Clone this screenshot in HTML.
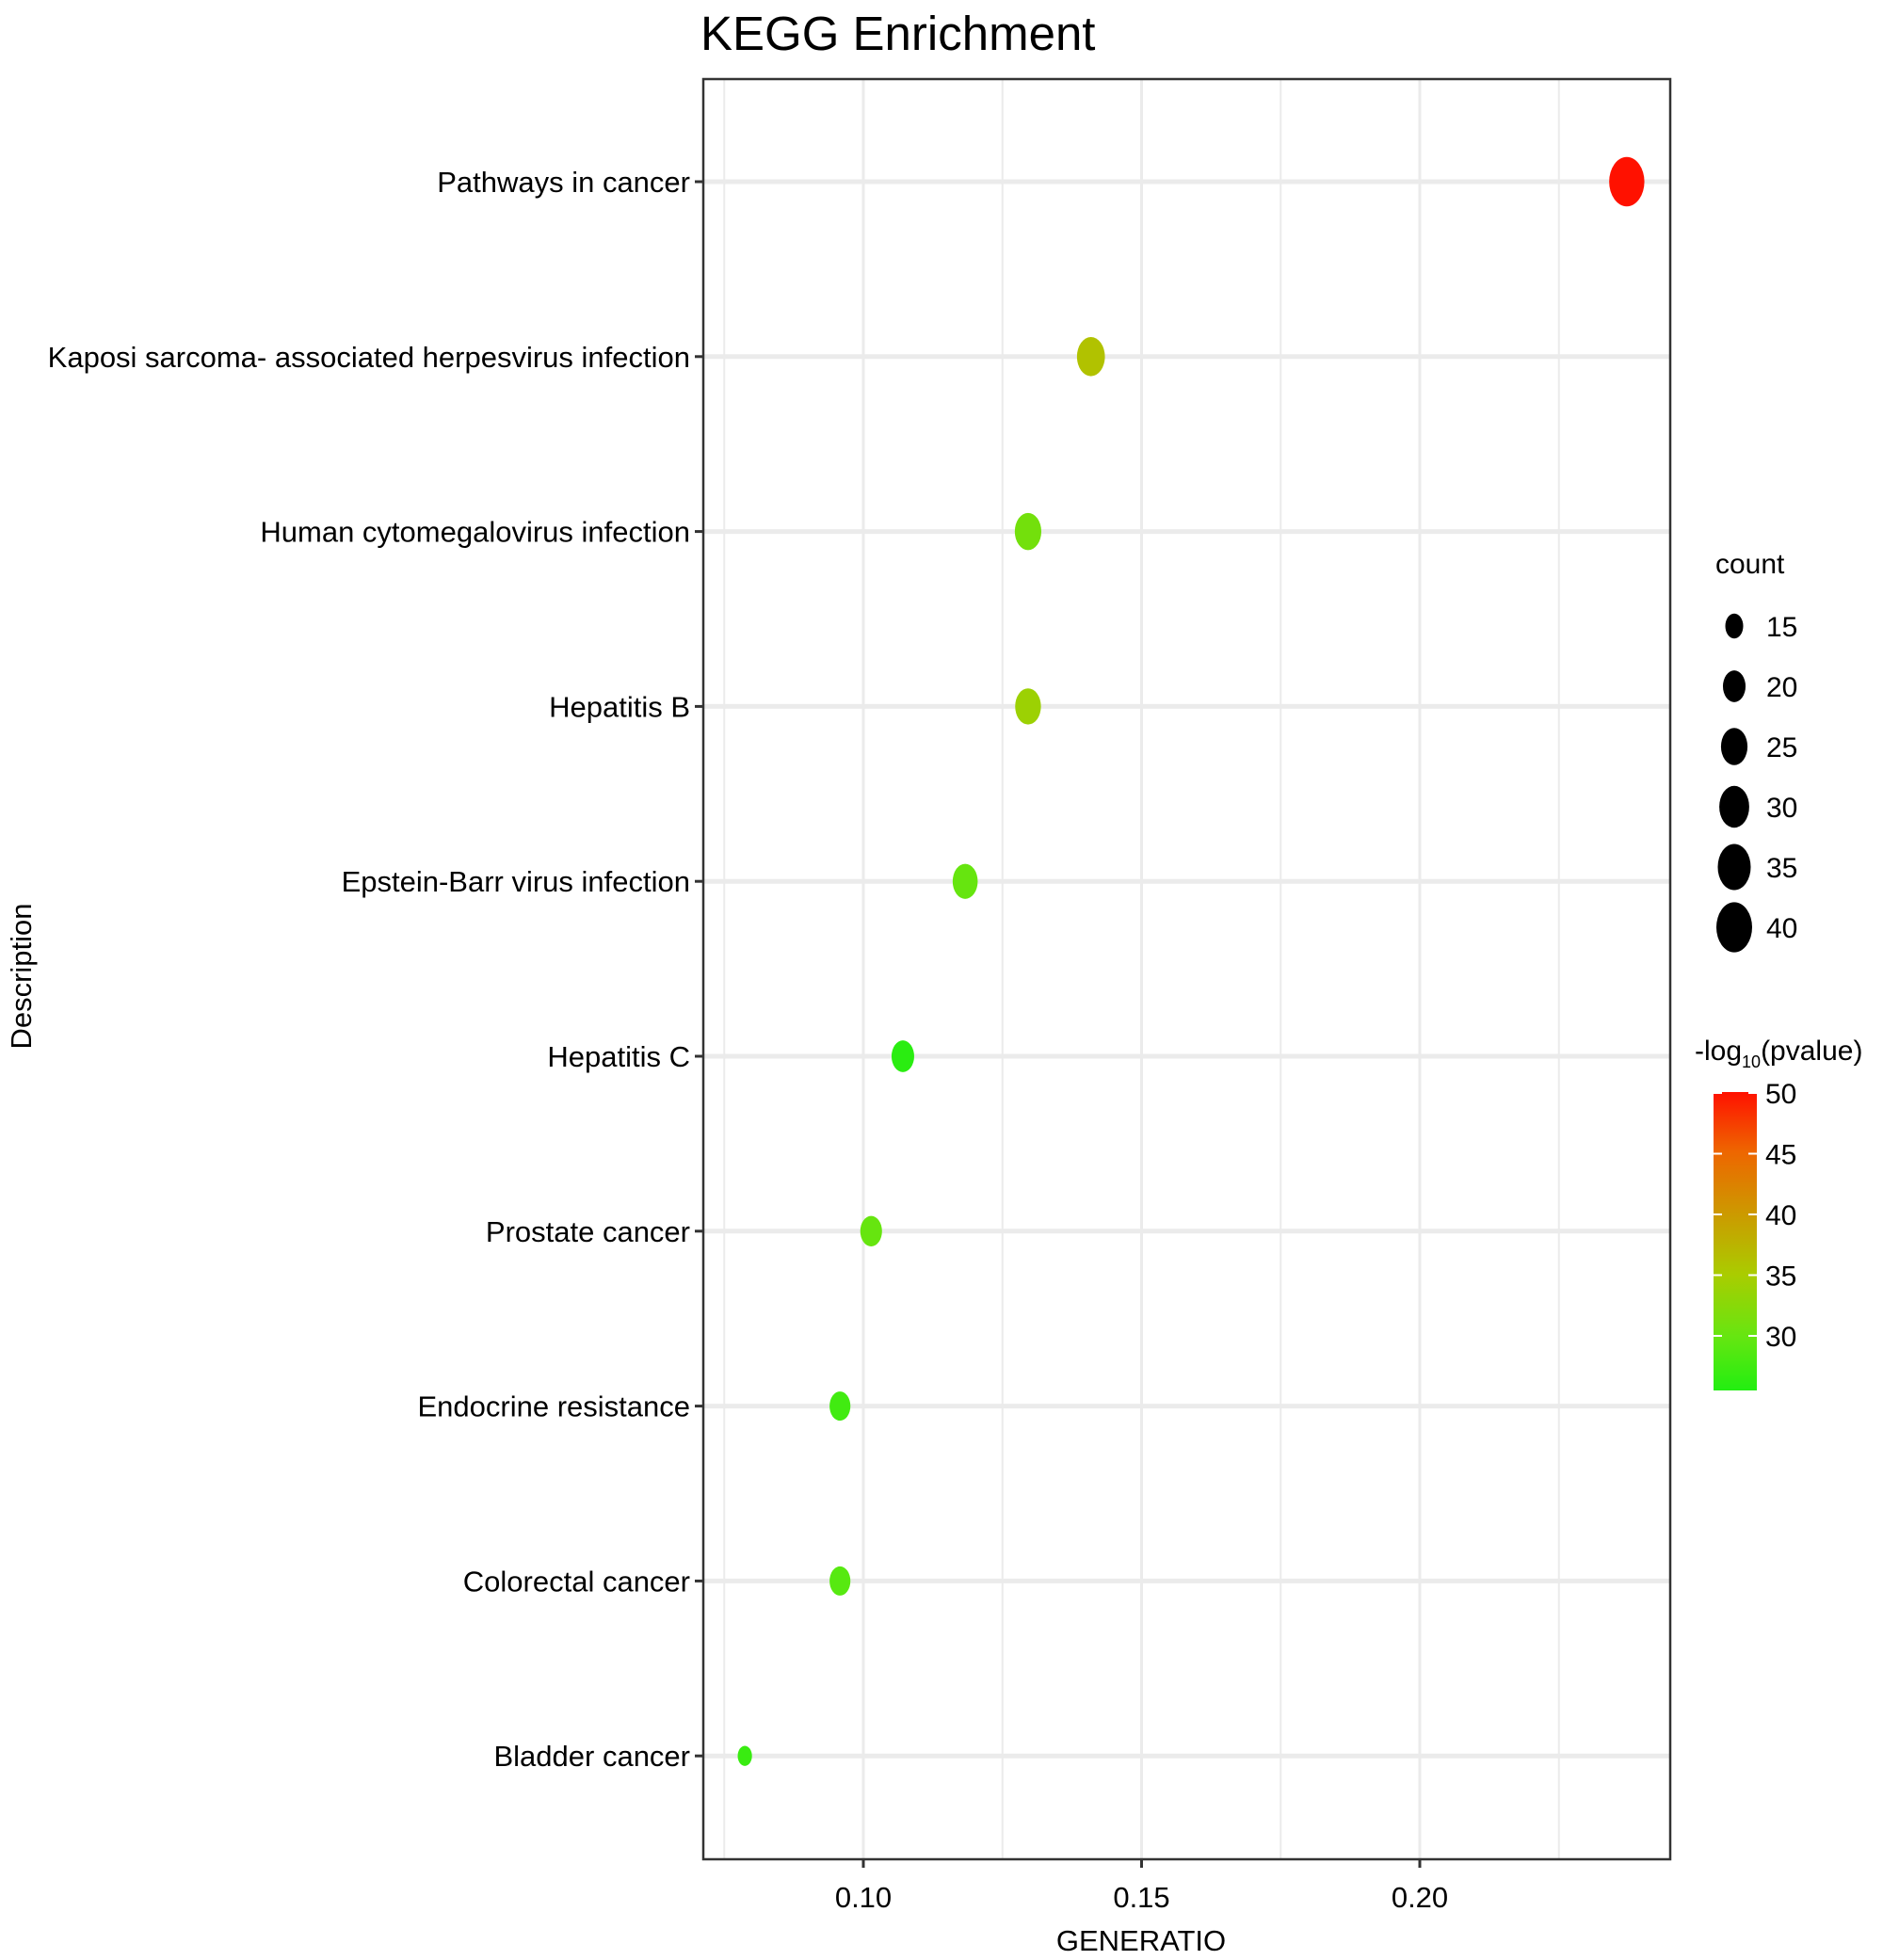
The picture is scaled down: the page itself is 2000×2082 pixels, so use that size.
<!DOCTYPE html>
<html><head><meta charset="utf-8"><style>
html,body{margin:0;padding:0;background:#fff}
svg{display:block;font-family:"Liberation Sans",Arial,sans-serif}
</style></head><body>
<svg id="chart" width="2000" height="2082" viewBox="0 0 2000 2082" xmlns="http://www.w3.org/2000/svg">
<defs>
<linearGradient id="cbar" x1="0" y1="1" x2="0" y2="0">
<stop offset="0" stop-color="#22ee11"/>
<stop offset="0.18" stop-color="#66e611"/>
<stop offset="0.39" stop-color="#aacc00"/>
<stop offset="0.59" stop-color="#cc9a00"/>
<stop offset="0.80" stop-color="#ee6600"/>
<stop offset="1" stop-color="#ff1100"/>
</linearGradient>
</defs>
<text x="744" y="53" font-size="51">KEGG Enrichment</text>
<g id="grid"></g>
<g id="points"></g>
<rect x="747" y="84" width="1027" height="1891" fill="none" stroke="#333" stroke-width="2.5"/>
<g id="yaxis"></g>
<g id="xaxis"></g>
<text x="1212" y="2072" font-size="31" text-anchor="middle">GENERATIO</text>
<text transform="translate(33,1037) rotate(-90)" font-size="31" text-anchor="middle">Description</text>
<g id="legend-size">
<text x="1822" y="609" font-size="30">count</text>
</g>
<g id="legend-color">
<text x="1800" y="1126" font-size="30">-log<tspan font-size="18" dy="8">10</tspan><tspan dy="-8">(pvalue)</tspan></text>
<rect x="1820" y="1160" width="46" height="317" fill="url(#cbar)"/>
</g>
</svg>
<script>
const categories = ["Pathways in cancer","Kaposi sarcoma- associated herpesvirus infection","Human cytomegalovirus infection","Hepatitis B","Epstein-Barr virus infection","Hepatitis C","Prostate cancer","Endocrine resistance","Colorectal cancer","Bladder cancer"];
const geneRatio = [0.2372,0.1409,0.1296,0.1296,0.1183,0.1071,0.1014,0.0958,0.0958,0.0787];
const counts = [39,27,25,24,23,20,19,18,18,12];
const pvals = [50,36,31,34,30,26,30,27.5,29,27];
const xTicks = [0.10,0.15,0.20];
const xTickLabels = ["0.10","0.15","0.20"];
const xMinor = [0.075,0.125,0.175,0.225];
const sizeLegend = [15,20,25,30,35,40];
const colorTicks = [30,35,40,45,50];

const NS="http://www.w3.org/2000/svg";
const X0=917, XPU=5910;
function xs(v){return X0+(v-0.10)*XPU;}
function ys(i){return 193+i*185.8;}
function wOf(c){return Math.sqrt(Math.max(60,361+(c-15)*43.3));}
const cStops=[[25.5,[34,238,17]],[29.5,[95,232,17]],[35,[170,204,0]],[40,[204,154,0]],[45,[238,102,0]],[50,[255,17,0]]];
function col(v){
  if(v<=cStops[0][0])return "rgb("+cStops[0][1]+")";
  for(let k=1;k<cStops.length;k++){
    if(v<=cStops[k][0]){const a=cStops[k-1],b=cStops[k];const t=(v-a[0])/(b[0]-a[0]);
      return "rgb("+a[1].map((c,j)=>Math.round(c+(b[1][j]-c)*t)).join(",")+")";}
  }
  return "rgb("+cStops[cStops.length-1][1]+")";
}
function mk(tag,attrs,parent){const e=document.createElementNS(NS,tag);for(const k in attrs)e.setAttribute(k,attrs[k]);parent.appendChild(e);return e;}
const grid=document.getElementById('grid');
xMinor.forEach(v=>{const x=xs(v);if(x<747||x>1774)return;
  const l=mk('line',{x1:x,x2:x,y1:84,y2:1975,stroke:'#ebebeb','stroke-width':2},grid);
  
  });
xTicks.forEach(v=>{const x=xs(v);
  const l=mk('line',{x1:x,x2:x,y1:84,y2:1975,stroke:'#ebebeb','stroke-width':3},grid);
  
  });
categories.forEach((c,i)=>{const y=ys(i);
  const l=mk('line',{x1:747,x2:1774,y1:y,y2:y,stroke:'#ebebeb','stroke-width':5},grid);
  
  });
const pts=document.getElementById('points');
categories.forEach((c,i)=>{const w=wOf(counts[i]);
  const e=mk('ellipse',{cx:xs(geneRatio[i]),cy:ys(i),rx:w/2,ry:w*1.4/2,fill:col(pvals[i])},pts);
  
  });
const ya=document.getElementById('yaxis');
categories.forEach((c,i)=>{const y=ys(i);
  const t=mk('line',{x1:738,x2:747,y1:y,y2:y,stroke:'#333','stroke-width':3},ya);
  
  
  const tx=mk('text',{x:733,y:y+11,'font-size':31,'text-anchor':'end'},ya);
  tx.textContent=c;
  
  });
const xa=document.getElementById('xaxis');
xTicks.forEach((v,i)=>{const x=xs(v);
  const t=mk('line',{x1:x,x2:x,y1:1975,y2:1984,stroke:'#333','stroke-width':3},xa);
  
  
  const tx=mk('text',{x:x,y:2026,'font-size':31,'text-anchor':'middle'},xa);
  tx.textContent=xTickLabels[i];
  
  });
const ls=document.getElementById('legend-size');
sizeLegend.forEach((c,i)=>{const y=665+i*64;const w=wOf(c);
  const e=mk('ellipse',{cx:1842,cy:y,rx:w/2,ry:w*1.4/2,fill:'#000'},ls);
  
  
  const t=mk('text',{x:1876,y:y+11,'font-size':30},ls);
  t.textContent=String(c);
  
  });
const lc=document.getElementById('legend-color');
colorTicks.forEach(v=>{const y=1161+(50-v)*12.9;
  const a=mk('line',{x1:1820,x2:1829,y1:y,y2:y,stroke:'#fff','stroke-width':2},lc);
  
  
  const b=mk('line',{x1:1857,x2:1866,y1:y,y2:y,stroke:'#fff','stroke-width':2},lc);
  
  
  const t=mk('text',{x:1875,y:y+11,'font-size':30},lc);
  t.textContent=String(v);
  
  });
</script>
</body></html>
